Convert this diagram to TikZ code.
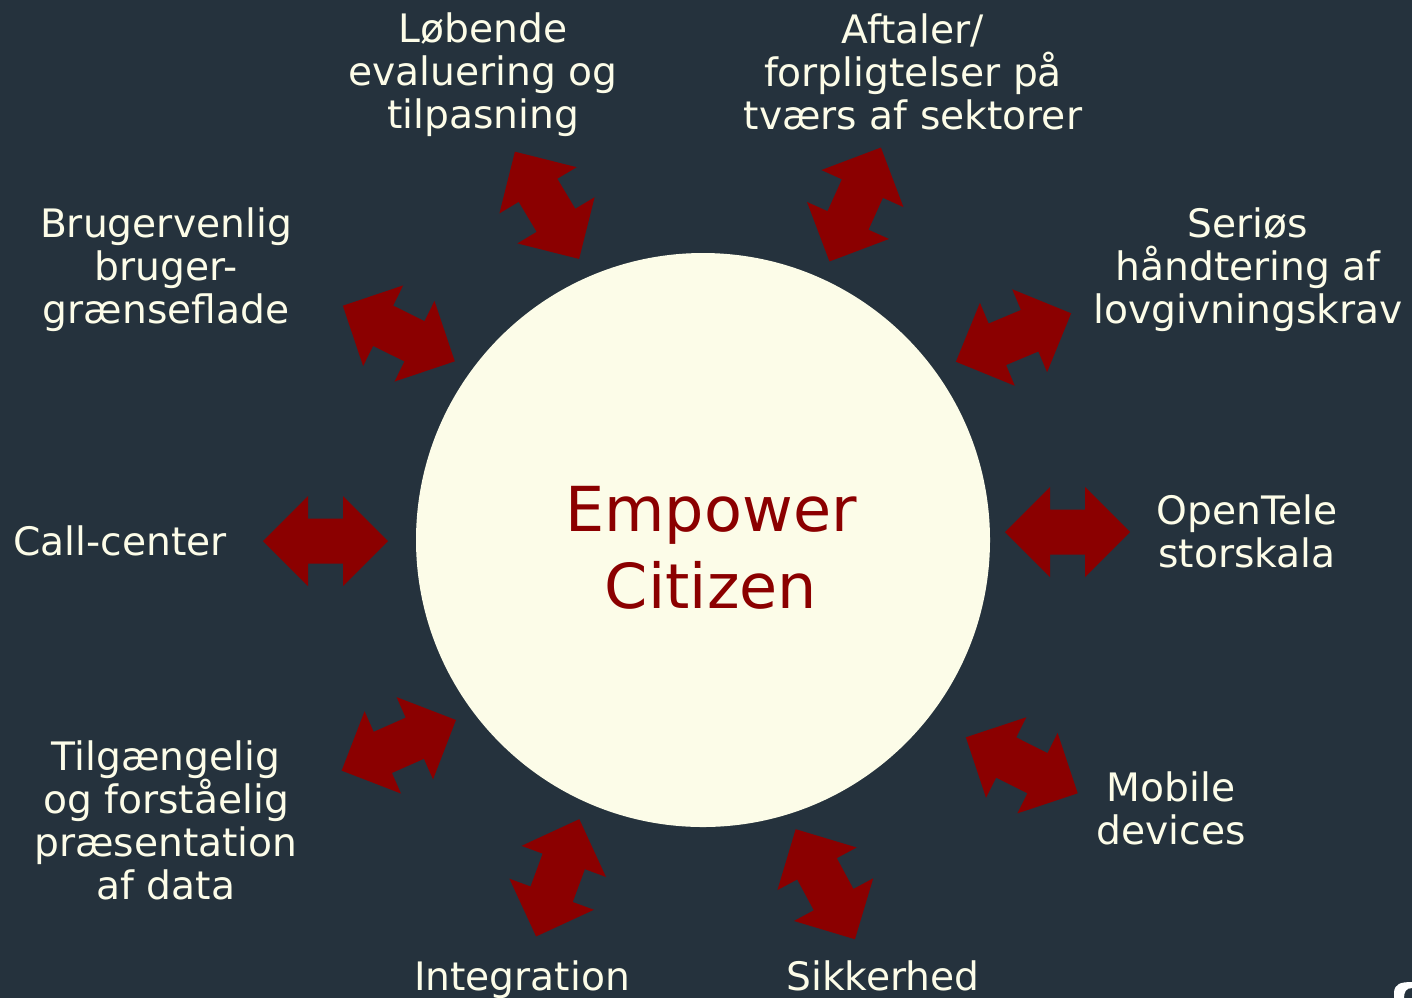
\documentclass[tikz,border=0pt]{standalone}
\usepackage{fontspec}
\setmainfont{DejaVu Sans}
\definecolor{bg}{RGB}{37,50,61}
\definecolor{cream}{RGB}{252,252,232}
\definecolor{darkred}{RGB}{139,0,0}
\newcommand{\dblarrow}[3]{%
  \fill[arrowfill,shift={(#1,#2)},rotate=#3]
    (-62.5,0) -- (-17.5,45) -- (-17.5,22.5) -- (17.5,22.5) -- (17.5,45) -- (62.5,0)
    -- (17.5,-45) -- (17.5,-22.5) -- (-17.5,-22.5) -- (-17.5,-45) -- cycle;}
\begin{document}
\begin{tikzpicture}[x=0.5pt,y=-0.5pt,
  arrowfill/.style={fill=darkred},
  lbl/.style={text=cream,align=center,inner sep=0pt,font=\fontsize{19.6}{21.5}\selectfont},
  hub/.style={circle,fill=cream,minimum size=287pt,inner sep=0pt}]
\fill[bg] (0,0) rectangle (1412,998);
\useasboundingbox (0,0) rectangle (1412,998);
\node[hub] (hub) at (703,540) {};
\node[text=darkred,align=center,inner sep=0pt,font=\fontsize{31}{38.5}\selectfont] (title) at (711,548) {Empower\\Citizen};
% arrows
\dblarrow{547}{205.3}{-59.1}
\dblarrow{855.2}{204.5}{65.7}
\dblarrow{1013.5}{337.5}{22.8}
\dblarrow{1067.5}{532}{0}
\dblarrow{1021.8}{765.3}{-26.6}
\dblarrow{825.3}{884.2}{-61.7}
\dblarrow{557.7}{877.8}{69.8}
\dblarrow{398.8}{745.3}{23.9}
\dblarrow{325.5}{541}{0}
\dblarrow{398.8}{333.5}{-26.4}
% labels
\node[lbl] (l1) at (483,75) {Løbende\\evaluering og\\tilpasning};
\node[lbl] (l2) at (913,72) {Aftaler/\\forpligtelser på\\tværs af sektorer};
\node[lbl] (l3) at (1248,270) {Seriøs\\håndtering af\\lovgivningskrav};
\node[lbl] (l4) at (1247,531) {OpenTele\\storskala};
\node[lbl] (l5) at (1171,808) {Mobile\\devices};
\node[lbl,anchor=base] (l6) at (883,990) {Sikkerhed};
\node[lbl,anchor=base] (l7) at (522,990) {Integration};
\node[lbl] (l8) at (166,820) {Tilgængelig\\og forståelig\\præsentation\\af data};
\node[lbl] (l9) at (120,541) {Call-center};
\node[lbl] (l10) at (166,270) {Brugervenlig\\bruger-\\grænseflade};
% corner logo fragment
\fill[white] (1394,998) -- (1394,992) .. controls (1395,984) and (1400,982) .. (1412,982) -- (1412,988) .. controls (1406,988) and (1404,992) .. (1404,998) -- cycle;
\end{tikzpicture}
\end{document}
